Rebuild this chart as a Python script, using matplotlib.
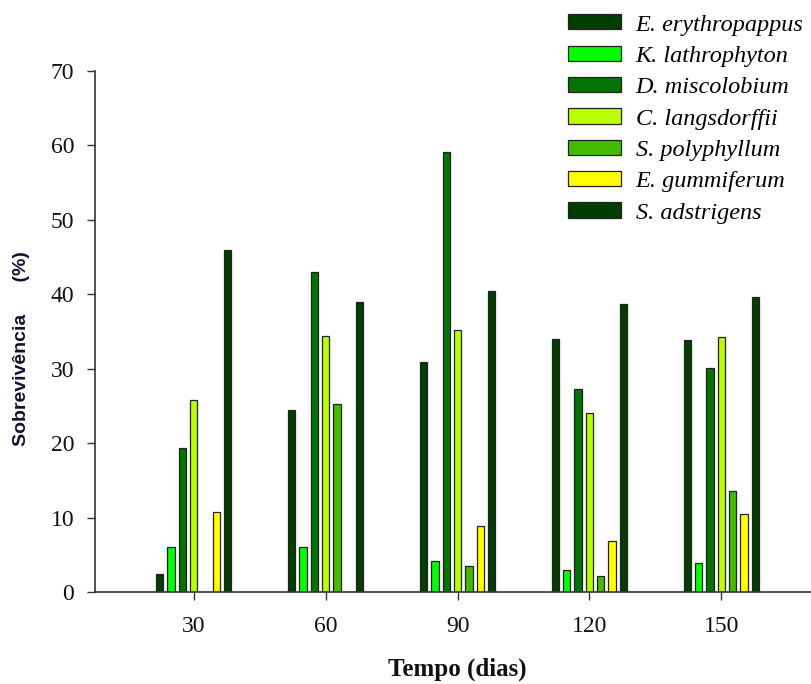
import matplotlib.pyplot as plt
import numpy as np

dias = ['30', '60', '90', '120', '150']
especies = ['E. erythropappus', 'K. lathrophyton', 'D. miscolobium', 'C. langsdorffii',
            'S. polyphyllum', 'E. gummiferum', 'S. adstrigens']
cores = ['#003d00', '#00ff00', '#007300', '#bbff00', '#44bb00', '#ffff00', '#003d00']

# sobrevivencia (%) por especie, em 30/60/90/120/150 dias
e_ery = [2.4, 24.4, 30.9, 34.0, 33.8]
k_lat = [6.0, 6.0, 4.1, 2.9, 3.9]
d_mis = [19.3, 43.0, 59.1, 27.3, 30.1]
c_lan = [25.8, 34.4, 35.2, 24.1, 34.3]
s_pol = [0.0, 25.2, 3.5, 2.2, 13.6]
e_gum = [10.7, 0.0, 8.9, 6.8, 10.5]
s_ads = [46.0, 38.9, 40.5, 38.7, 39.7]
series = [e_ery, k_lat, d_mis, c_lan, s_pol, e_gum, s_ads]

fig = plt.figure(figsize=(8.11, 6.84), dpi=100)
ax = fig.add_axes([0.117, 0.1345, 0.883, 0.7617])

x = np.arange(len(dias))
passo = 0.086
larg = 0.055
for i, (nome, vals, cor) in enumerate(zip(especies, series, cores)):
    ax.bar(x + (i - 3) * passo, vals, width=larg, color=cor, edgecolor='#222222',
           linewidth=0.9, label=nome)

ax.set_xlim(-0.75, 4.68)
ax.set_ylim(0, 70)
ax.set_yticks(range(0, 71, 10))
ax.set_xticks(x)
ax.set_xticklabels(dias)

for s in ['top', 'right']:
    ax.spines[s].set_visible(False)
for s in ['left', 'bottom']:
    ax.spines[s].set_color('#333333')
    ax.spines[s].set_linewidth(1.2)

ax.tick_params(axis='both', direction='out', length=6, width=1, color='#333333',
               labelsize=17, labelcolor='#111111')
ax.tick_params(axis='y', pad=9)
ax.tick_params(axis='x', pad=11)
for lab in ax.get_xticklabels() + ax.get_yticklabels():
    lab.set_fontfamily('Liberation Serif')

fig.text(0.027, 0.491, 'Sobrevivência      (%)', rotation=90, ha='center', va='center',
         fontsize=14, fontweight='bold', family='Liberation Sans', color='#111133')
fig.text(0.5635, 0.022, 'Tempo (dias)', ha='center', va='center', fontsize=18,
         fontweight='bold', family='Liberation Serif', color='#111111')

fig.legend(loc='upper left', bbox_to_anchor=(0.700, 0.979), frameon=False,
           prop={'family': 'Liberation Serif', 'style': 'italic', 'size': 17.5},
           handlelength=2.18, handleheight=0.58, labelspacing=0.42, handletextpad=0.62,
           borderpad=0, borderaxespad=0)

fig.savefig('out.png', dpi=100)
